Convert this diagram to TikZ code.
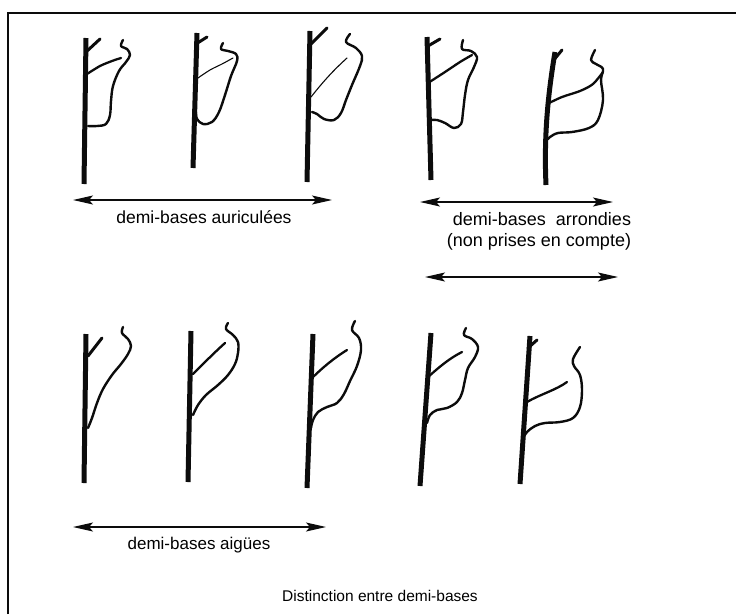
\documentclass[tikz,border=0pt]{standalone}
\usepackage{fontspec}
\setmainfont{Liberation Sans}
\usepackage{tikz}
\usetikzlibrary{arrows.meta,positioning}
\definecolor{inkblack}{RGB}{12,12,12}
\tikzstyle{stem} = [line width=5pt, color=inkblack]
\tikzstyle{twig} = [line width=3pt, color=inkblack, line cap=round]
\tikzstyle{vein} = [line width=2.3pt, color=inkblack, line cap=round]
\tikzstyle{fine vein} = [line width=1.1pt, color=inkblack, line cap=round]
\tikzstyle{blade} = [line width=2.4pt, color=inkblack, line cap=round, line join=round]
\tikzstyle{span} = [line width=1.1pt, color=inkblack, arrows={Stealth[length=20pt,width=9pt,inset=4pt]-Stealth[length=20pt,width=9pt,inset=4pt]}]
\tikzstyle{caption} = [font=\fontsize{17}{20}\selectfont, inner sep=0pt, align=center]

\begin{document}
\begin{tikzpicture}[x=1pt, y=-1pt]
\useasboundingbox (0,0) rectangle (736,614);
\draw[line width=2.4pt, inkblack] (8,614) -- (8,13) -- (736,13);

% demi-bases auriculees
\draw[stem] (86,38) -- (84,184);
\draw[twig] (86,52) -- (100,39);
\draw[vein] plot[smooth] coordinates {(87,74) (100,66) (112,61) (121,58)};
\draw[blade] plot[smooth, tension=0.6] coordinates {(123,40) (121,46) (127,49) (130,55) (126,62) (119,71) (113,86) (111,101) (110,115) (106,124) (97,126) (88,126)};

\draw[stem] (197,33) -- (193,168);
\draw[twig] (196,44) -- (207,37);
\draw[fine vein] plot[smooth] coordinates {(195,80) (210,70) (222,64) (233,58)};
\draw[blade] plot[smooth, tension=0.6] coordinates {(223,43) (221,49) (228,51) (236,54) (237,61) (231,76) (225,95) (219,112) (212,122) (203,124) (197,119) (196,112)};

\draw[stem] (310,31) -- (307,182);
\draw[twig] (310,45) -- (327,28);
\draw[fine vein] (311,97) .. controls (326,78) and (336,68) .. (347,58);
\draw[blade] plot[smooth, tension=0.6] coordinates {(350,34) (346,42) (356,48) (362,56) (360,66) (352,85) (346,100) (341,113) (334,120) (324,119) (317,114) (312,112)};

% demi-bases arrondies
\draw[stem] (427,37) -- (431,180);
\draw[twig] (428,46) -- (440,39);
\draw[vein] plot[smooth] coordinates {(428,83) (445,72) (460,62) (472,55)};
\draw[blade] plot[smooth, tension=0.6] coordinates {(463,40) (462,49) (471,51) (477,57) (474,67) (468,80) (465,95) (463,112) (461,124) (454,128) (445,123) (437,120) (430,120)};

\draw[stem] (555,52) .. controls (547,100) and (544,140) .. (546,185);
\draw[twig] (553,61) -- (562,50);
\draw[vein] plot[smooth] coordinates {(547,104) (562,97) (580,91) (593,84) (603,72)};
\draw[blade] plot[smooth, tension=0.6] coordinates {(595,50) (591,60) (596,64) (603,69) (601,80) (603,100) (598,120) (589,128) (572,132) (558,133) (550,137) (546,141)};

% demi-bases aigues
\draw[stem] (86,334) -- (84,483);
\draw[twig] (88,356) -- (102,338);
\draw[blade] plot[smooth, tension=0.6] coordinates {(123,327) (122,333) (128,339) (131,346) (128,354) (121,364) (112,375) (103,389) (97,403) (92,418) (88,428)};

\draw[stem] (191,331) -- (188,482);
\draw[vein] (193,374) .. controls (205,362) and (215,352) .. (225,343);
\draw[blade] plot[smooth, tension=0.6] coordinates {(228,323) (226,329) (233,335) (238,342) (238,353) (235,364) (228,375) (218,385) (206,395) (198,405) (193,415)};

\draw[stem] (313,334) -- (307,488);
\draw[vein] (310,380) .. controls (322,368) and (334,358) .. (347,350);
\draw[blade] plot[smooth, tension=0.6] coordinates {(355,321) (352,330) (359,338) (361,350) (357,366) (350,381) (344,394) (337,403) (327,407) (318,412) (313,420) (311,428)};

\draw[stem] (431,333) -- (420,486);
\draw[vein] (427,378) .. controls (439,367) and (450,358) .. (462,352);
\draw[blade] plot[smooth, tension=0.6] coordinates {(466,328) (464,335) (472,339) (478,347) (475,357) (468,368) (465,380) (462,393) (457,402) (447,408) (437,410) (430,415) (427,423)};

\draw[stem] (530,336) -- (520,484);
\draw[twig] (528,348) -- (537,340);
\draw[vein] (527,402) .. controls (541,394) and (556,390) .. (567,382);
\draw[blade] plot[smooth, tension=0.6] coordinates {(580,347) (573,359) (574,366) (580,375) (582,390) (580,407) (573,418) (560,422) (545,423) (535,426) (527,432) (523,438)};

% spans and captions
\coordinate (auricL) at (73,200);
\coordinate (auricR) at (332,200);
\coordinate (arrondL) at (420,202);
\coordinate (arrondR) at (613,202);
\coordinate (comptL) at (425,277);
\coordinate (comptR) at (618,277);
\coordinate (aiguL) at (73,527);
\coordinate (aiguR) at (326,527);

\draw[span] (auricL) -- (auricR);
\draw[span] (arrondL) -- (arrondR);
\draw[span] (comptL) -- (comptR);
\draw[span] (aiguL) -- (aiguR);

\node (auricText) [caption, font=\fontsize{17.5}{21}\selectfont] at (204,217) {demi-bases auriculées};
\node (arrondText) [caption, align=right, font=\fontsize{18}{21}\selectfont] at (539,231) {demi-bases\ \ arrondies\\(non prises en compte)};
\node (aiguText) [caption] at (199,545) {demi-bases aigües};
\node (title) [caption, font=\fontsize{15.5}{18}\selectfont] at (380,596) {Distinction entre demi-bases};
\end{tikzpicture}
\end{document}
